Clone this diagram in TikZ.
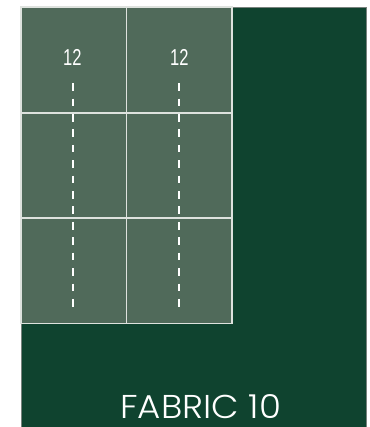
\documentclass[tikz,border=0pt]{standalone}
\usepackage{fontspec}
\setmainfont{Liberation Sans}
\newfontfamily\geofont{Poppins}[UprightFont=* Light]
\definecolor{darkgreen}{RGB}{15,67,47}
\definecolor{cellgreen}{RGB}{80,106,90}
\definecolor{gridline}{RGB}{222,226,222}
\definecolor{edgegray}{RGB}{120,130,125}
\tikzset{
  cellbox/.style={fill=cellgreen, draw=gridline, line width=1.4pt},
  foldline/.style={draw=white, line width=1.8pt, dash pattern=on 7.6pt off 7.8pt},
  numlabel/.style={text=white, font=\fontsize{23}{23}\selectfont, inner sep=0pt},
  fabriclabel/.style={text=white, font=\geofont\fontsize{33}{33}\selectfont, inner sep=0pt, anchor=base, text depth=0pt}
}
\begin{document}
\begin{tikzpicture}[x=1pt, y=-1pt]
\useasboundingbox (0,0) rectangle (369,427);
\fill[white] (0,0) rectangle (369,427);
\fill[darkgreen] (21,7) rectangle (366.5,427);
\draw[edgegray, line width=0.8pt] (21,427) -- (21,7) -- (366.5,7) -- (366.5,427);
% cells
\path[cellbox] (21,7) rectangle (126.5,113);
\path[cellbox] (126.5,7) rectangle (232,113);
\path[cellbox] (21,113) rectangle (126.5,218);
\path[cellbox] (126.5,113) rectangle (232,218);
\path[cellbox] (21,218) rectangle (126.5,323.5);
\path[cellbox] (126.5,218) rectangle (232,323.5);
% labels
\node[numlabel] (n1) at (72.3,57.5) {\scalebox{0.72}[1]{12}};
\node[numlabel] (n2) at (179.3,57.5) {\scalebox{0.72}[1]{12}};
% fold lines
\coordinate (d1a) at (72.8,83.3);
\coordinate (d1b) at (72.8,312);
\coordinate (d2a) at (179.3,83.3);
\coordinate (d2b) at (179.3,312);
\draw[foldline] (d1a) -- (d1b);
\draw[foldline] (d2a) -- (d2b);
\node[fabriclabel] (title) at (200.8,418.3) {\scalebox{1.08}[1]{FABRIC 10}};
\end{tikzpicture}
\end{document}
